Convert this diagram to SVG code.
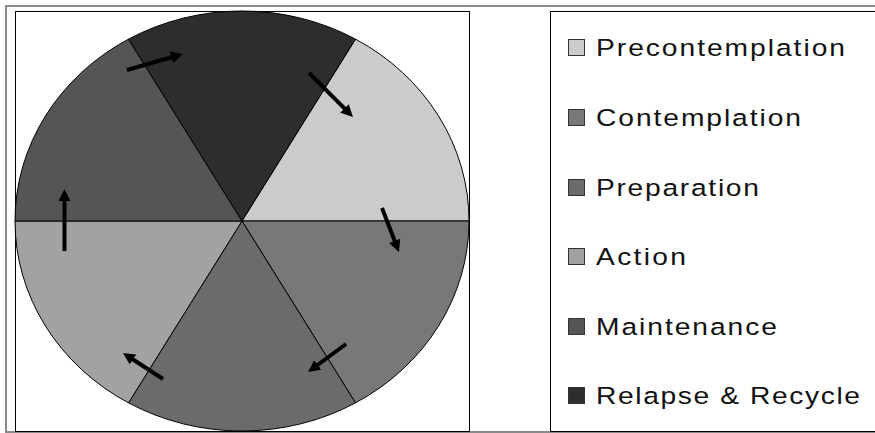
<svg xmlns="http://www.w3.org/2000/svg" width="875" height="433" viewBox="0 0 875 433">
<style>
.frame{fill:none;stroke:#8a8a8a;stroke-width:2}
.box{fill:#ffffff;stroke:#000000;stroke-width:1}
.slice{stroke:#000000;stroke-width:1}
.sw{stroke:#333333;stroke-width:1}
.lbl{font-family:"Liberation Sans",Arial,sans-serif;font-size:23.5px;fill:#111111}
.arr{stroke:#000000;stroke-width:4;fill:none;marker-end:url(#ah)}
</style>
<defs>
<marker id="ah" markerUnits="userSpaceOnUse" viewBox="0 0 12 12" markerWidth="12" markerHeight="12" refX="1" refY="6" orient="auto">
<path d="M0,0 L12,6 L0,12 Z" fill="#000000"/>
</marker>
</defs>
<rect width="875" height="433" fill="#ffffff"/>
<rect class="frame" x="6" y="6" width="900" height="426"/>
<rect class="box" x="15.5" y="11.5" width="454" height="420"/>
<rect class="box" x="550.5" y="11.5" width="340" height="420"/>
<g id="pie">
<g id="precontemplation-slice"><path class="slice" fill="#cbcbcb" d="M242,221 L355.5,39.13 A227,210 0 0 1 469,221 Z"/></g>
<g id="contemplation-slice"><path class="slice" fill="#787878" d="M242,221 L469,221 A227,210 0 0 1 355.5,402.87 Z"/></g>
<g id="preparation-slice"><path class="slice" fill="#6b6b6b" d="M242,221 L355.5,402.87 A227,210 0 0 1 128.5,402.87 Z"/></g>
<g id="action-slice"><path class="slice" fill="#a2a2a2" d="M242,221 L128.5,402.87 A227,210 0 0 1 15,221 Z"/></g>
<g id="maintenance-slice"><path class="slice" fill="#555555" d="M242,221 L15,221 A227,210 0 0 1 128.5,39.13 Z"/></g>
<g id="relapse-slice"><path class="slice" fill="#2d2d2d" d="M242,221 L128.5,39.13 A227,210 0 0 1 355.5,39.13 Z"/></g>
</g>
<g id="connectors">
<line class="arr" x1="127" y1="70" x2="172.4" y2="57"/>
<line class="arr" x1="309" y1="73" x2="345.2" y2="109.2"/>
<line class="arr" x1="382" y1="208" x2="395" y2="241.7"/>
<line class="arr" x1="346" y1="344" x2="316.9" y2="365.5"/>
<line class="arr" x1="163" y1="379" x2="132.2" y2="359"/>
<line class="arr" x1="64.5" y1="251" x2="64.5" y2="200"/>
</g>
<g id="legend">
<g id="leg-precontemplation"><rect class="sw" x="568.5" y="39.5" width="16" height="16" fill="#cbcbcb"/><text class="lbl" transform="scale(1.2,1)" x="496.67" y="56" textLength="207.5" lengthAdjust="spacing">Precontemplation</text></g>
<g id="leg-contemplation"><rect class="sw" x="568.5" y="109.5" width="16" height="16" fill="#787878"/><text class="lbl" transform="scale(1.2,1)" x="496.67" y="126" textLength="170.8" lengthAdjust="spacing">Contemplation</text></g>
<g id="leg-preparation"><rect class="sw" x="568.5" y="179.5" width="16" height="16" fill="#6b6b6b"/><text class="lbl" transform="scale(1.2,1)" x="496.67" y="196" textLength="135.8" lengthAdjust="spacing">Preparation</text></g>
<g id="leg-action"><rect class="sw" x="568.5" y="248.5" width="16" height="16" fill="#a2a2a2"/><text class="lbl" transform="scale(1.2,1)" x="496.67" y="265" textLength="75" lengthAdjust="spacing">Action</text></g>
<g id="leg-maintenance"><rect class="sw" x="568.5" y="318.5" width="16" height="16" fill="#555555"/><text class="lbl" transform="scale(1.2,1)" x="496.67" y="335" textLength="150.8" lengthAdjust="spacing">Maintenance</text></g>
<g id="leg-relapse"><rect class="sw" x="568.5" y="387.5" width="16" height="16" fill="#2d2d2d"/><text class="lbl" transform="scale(1.2,1)" x="496.67" y="404" textLength="220" lengthAdjust="spacing">Relapse &amp; Recycle</text></g>
</g>
</svg>
